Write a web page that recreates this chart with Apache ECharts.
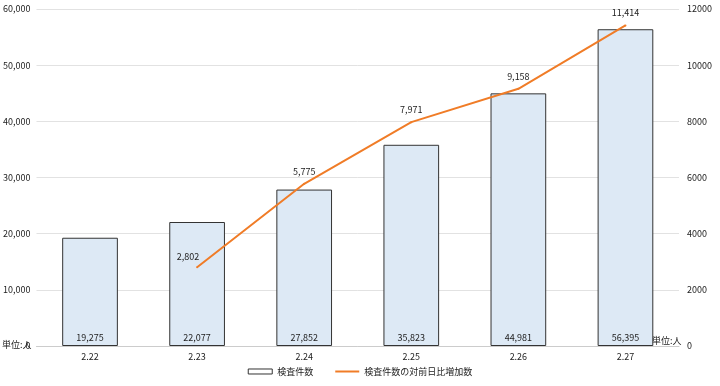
<!DOCTYPE html>
<html><head><meta charset="utf-8">
<script src="https://cdn.jsdelivr.net/npm/echarts@6/dist/echarts.min.js"></script>
<style>html,body{margin:0;padding:0;background:#fff}#c{width:720px;height:386px}</style>
</head><body><div id="c"></div>
<script>
const categories = ['2.22','2.23','2.24','2.25','2.26','2.27'];
const testCounts = [19275, 22077, 27852, 35823, 44981, 56395];
const dailyIncrease = [null, 2802, 5775, 7971, 9158, 11414];
const leftTicks = [0, 60000, 10000];
const rightTicks = [0, 12000, 2000];
const barName = '検査件数';
const lineName = '検査件数の対前日比増加数';
const unitText = '単位:人';

const font = '"Noto Sans CJK JP", "DejaVu Sans", sans-serif';
const chart = echarts.init(document.getElementById('c'), null, {renderer:'canvas'});
const fmt = v => v == null ? '' : Number(v).toLocaleString('en-US');
const lineData = dailyIncrease.map((v, i) => i === 1 ? {value: v, label: {offset: [-9, 2]}} : v);
chart.setOption({
  animation:false,
  textStyle:{fontFamily:font},
  grid:{left:33, right:41, top:9, bottom:40},
  legend:{
    bottom:5, left:'center', itemGap:22, itemWidth:24, itemHeight:5,
    textStyle:{fontSize:9, color:'#222', fontFamily:font},
    data:[
      {name:barName, icon:'rect', itemStyle:{color:'#fff', borderColor:'#333', borderWidth:1}},
      {name:lineName, icon:'path://M0,2 L24,2 L24,4 L0,4 Z', itemStyle:{color:'#f07c27', opacity:1, borderWidth:0}}
    ]
  },
  xAxis:{
    type:'category', data:categories,
    axisLine:{lineStyle:{color:'#ccc'}},
    axisTick:{show:false},
    axisLabel:{fontSize:9, color:'#222', margin:6}
  },
  yAxis:[
    {type:'value', min:leftTicks[0], max:leftTicks[1], interval:leftTicks[2],
     axisLabel:{fontSize:9, color:'#222', margin:6, formatter:fmt},
     splitLine:{lineStyle:{color:'#e2e2e2'}}, axisLine:{show:false}, axisTick:{show:false}},
    {type:'value', min:rightTicks[0], max:rightTicks[1], interval:rightTicks[2],
     axisLabel:{fontSize:9, color:'#222', margin:8, formatter:v => String(v)},
     splitLine:{show:false}, axisLine:{show:false}, axisTick:{show:false}}
  ],
  graphic:[
    {type:'text', left:2, top:340, style:{text:unitText, fontSize:9, fill:'#222', fontFamily:font}},
    {type:'text', left:652, top:336, style:{text:unitText, fontSize:9, fill:'#222', fontFamily:font}}
  ],
  series:[
    {name:barName, type:'bar', data:testCounts, barWidth:'52%', yAxisIndex:0,
     itemStyle:{color:'#dde9f5', borderColor:'#333', borderWidth:1},
     label:{show:true, position:'insideBottom', distance:4, fontSize:9, color:'#222', formatter:p=>fmt(p.value)}},
    {name:lineName, type:'line', data:lineData, yAxisIndex:1, symbol:'circle', symbolSize:2, showSymbol:true,
     lineStyle:{color:'#f07c27', width:2}, itemStyle:{color:'#f07c27'},
     label:{show:true, position:'top', distance:7, fontSize:9, color:'#222', formatter:p=>fmt(p.value)}}
  ]
});
</script></body></html>
